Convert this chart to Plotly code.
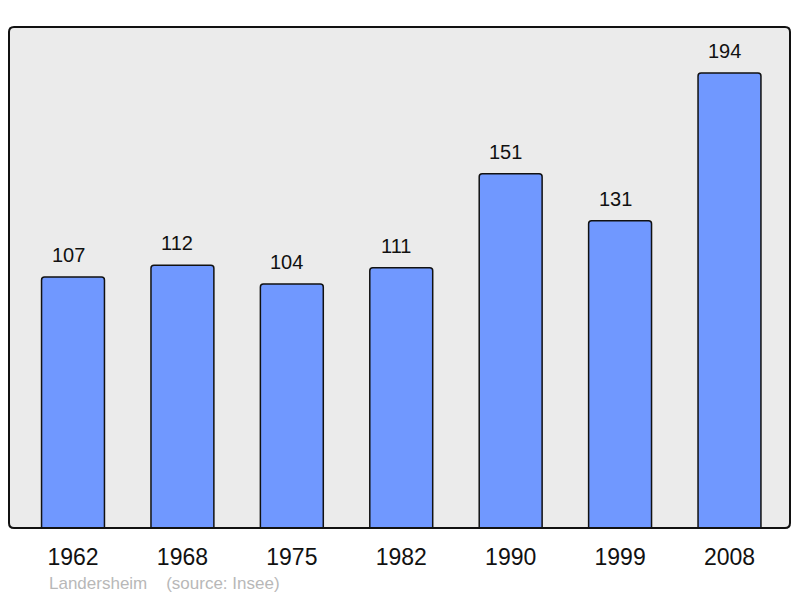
import plotly.graph_objects as go

years = ["1962", "1968", "1975", "1982", "1990", "1999", "2008"]
population = [107, 112, 104, 111, 151, 131, 194]
source_text = "Landersheim    (source: Insee)"

W, H = 800, 598
ml, mr, mt, mb = 9, 10, 27, 70
pw, ph = W - ml - mr, H - mt - mb

fig = go.Figure()
fig.add_trace(go.Bar(
    x=years, y=population, width=0.575,
    marker=dict(color="#7098ff", line=dict(color="#111111", width=1.5), cornerradius=3),
    hoverinfo="x+y",
))

for i, v in enumerate(population):
    fig.add_annotation(x=i, y=v, text=str(v), showarrow=False, yanchor="bottom",
                       yshift=9, xshift=-5, font=dict(size=20, color="#111111",
                                                      family="Liberation Sans, Arial, sans-serif"))

# rounded frame
r = 5
rx, ry = r / pw, r / ph
path = (f"M {rx},0 L {1-rx},0 Q 1,0 1,{ry} L 1,{1-ry} Q 1,1 {1-rx},1 "
        f"L {rx},1 Q 0,1 0,{1-ry} L 0,{ry} Q 0,0 {rx},0 Z")
fig.add_shape(type="path", xref="paper", yref="paper", path=path,
              line=dict(color="#111111", width=2), layer="above")

fig.add_annotation(xref="paper", yref="paper", x=(47 - ml) / pw, y=-(583 - 528) / ph,
                   text=source_text, showarrow=False, xanchor="left", yanchor="middle",
                   font=dict(size=17, color="#b8b8b8", family="Liberation Sans, Arial, sans-serif"))

fig.update_layout(
    width=W, height=H,
    margin=dict(l=ml, r=mr, t=mt, b=mb, pad=0),
    paper_bgcolor="#ffffff", plot_bgcolor="#ebebeb",
    showlegend=False,
    font=dict(family="Liberation Sans, Arial, sans-serif", color="#111111"),
    xaxis=dict(type="category", range=[-0.585, 6.553], showgrid=False, zeroline=False,
               ticks="outside", ticklen=8, tickcolor="rgba(0,0,0,0)",
               tickfont=dict(size=23, color="#111111"), showline=False, fixedrange=True),
    yaxis=dict(range=[0, 213.6], showgrid=False, zeroline=False, showticklabels=False,
               showline=False, fixedrange=True),
)

fig.write_html("out.html", config={"displayModeBar": False},
               post_script="document.body.style.margin='0';")
